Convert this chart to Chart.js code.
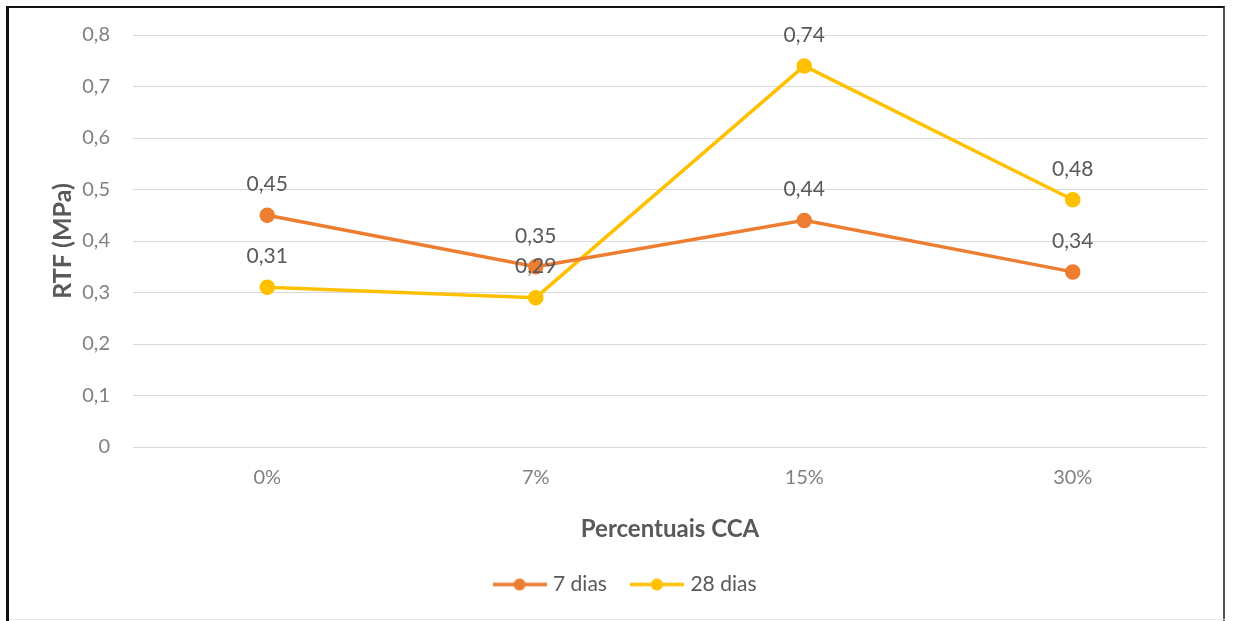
<!DOCTYPE html>
<html>
<head>
<meta charset="utf-8">
<script src="https://cdn.jsdelivr.net/npm/chart.js@4.4.1/dist/chart.umd.min.js"></script>
<style>
  html, body { margin: 0; padding: 0; background: #fff; }
  #wrap { position: relative; width: 1233px; height: 621px; overflow: hidden; }
  #chart { position: absolute; left: 0; top: 0; }
  #frame {
    position: absolute; left: 6px; top: 6px; width: 1219px; height: 620px;
    border-left: 3px solid #111; border-top: 2px solid #111; border-right: 2px solid #555;
    box-sizing: border-box; pointer-events: none;
  }
  #bottomline { position: absolute; left: 9px; top: 619px; width: 1216px; height: 1px; background: #e6e6e6; }
</style>
</head>
<body>
<div id="wrap">
  <canvas id="chart" width="1233" height="621"></canvas>
  <div id="frame"></div>
  <div id="bottomline"></div>
</div>
<script>
// Percentage of rice husk ash (CCA) on the x axis
const categories = ['0%', '7%', '15%', '30%'];
// Flexural tensile strength (MPa)
const dias7 = [0.45, 0.35, 0.44, 0.34];
const dias28 = [0.31, 0.29, 0.74, 0.48];
const seriesNames = ['7 dias', '28 dias'];
const yTicks = [0, 0.1, 0.2, 0.3, 0.4, 0.5, 0.6, 0.7, 0.8];

const ORANGE = '#ED7D31';
const GOLD = '#FFC000';
const FONT = 'Lato, "Open Sans", sans-serif';

const fmt = (v, d) => v === 0 ? '0' : v.toFixed(d).replace('.', ',');

// Legend marker: a short line with a dot in the middle
function legendMarker(color) {
  const c = document.createElement('canvas');
  c.width = 54; c.height = 14;
  const g = c.getContext('2d');
  g.strokeStyle = color; g.lineWidth = 3.5;
  g.beginPath(); g.moveTo(0, 7); g.lineTo(54, 7); g.stroke();
  g.fillStyle = color;
  g.beginPath(); g.arc(27, 7, 6, 0, Math.PI * 2); g.fill();
  return c;
}

// Value labels above each point
const valueLabels = {
  id: 'valueLabels',
  afterDatasetsDraw(chart) {
    const ctx = chart.ctx;
    ctx.save();
    ctx.font = '21px ' + FONT;
    ctx.fillStyle = '#595959';
    ctx.textAlign = 'center';
    ctx.textBaseline = 'middle';
    chart.data.datasets.forEach((ds, i) => {
      chart.getDatasetMeta(i).data.forEach((pt, j) => {
        ctx.fillText(fmt(ds.data[j], 2), pt.x, pt.y - 31);
      });
    });
    ctx.restore();
  }
};

const whiteBg = {
  id: 'whiteBg',
  beforeDraw(chart) {
    const ctx = chart.ctx;
    ctx.save();
    ctx.fillStyle = '#fff';
    ctx.fillRect(0, 0, chart.width, chart.height);
    ctx.restore();
  }
};

const markers = [legendMarker(ORANGE), legendMarker(GOLD)];

new Chart(document.getElementById('chart'), {
  type: 'line',
  data: {
    labels: categories,
    datasets: [
      { label: seriesNames[0], data: dias7, borderColor: ORANGE, backgroundColor: ORANGE,
        pointBackgroundColor: ORANGE, pointBorderColor: ORANGE, borderWidth: 3.5,
        pointRadius: 6, pointStyle: 'circle', tension: 0 },
      { label: seriesNames[1], data: dias28, borderColor: GOLD, backgroundColor: GOLD,
        pointBackgroundColor: GOLD, pointBorderColor: GOLD, borderWidth: 3.5,
        pointRadius: 6, pointStyle: 'circle', tension: 0 }
    ]
  },
  options: {
    responsive: false,
    animation: false,
    events: [],
    layout: { padding: { left: 46, right: 26, top: 35, bottom: 16 } },
    plugins: {
      tooltip: { enabled: false },
      legend: {
        position: 'bottom',
        labels: {
          usePointStyle: true,
          pointStyleWidth: 46,
          padding: 27,
          color: '#595959',
          font: { family: FONT, size: 21 },
          generateLabels(chart) {
            return chart.data.datasets.map((ds, i) => ({
              text: ds.label, pointStyle: markers[i], fillStyle: ds.borderColor,
              strokeStyle: ds.borderColor, lineWidth: 0, fontColor: '#595959',
              datasetIndex: i, hidden: false
            }));
          }
        }
      }
    },
    scales: {
      x: {
        type: 'category',
        offset: true,
        grid: { display: false, drawTicks: false },
        border: { display: false },
        ticks: { color: '#808080', padding: 19, font: { family: FONT, size: 20 } },
        title: { display: true, text: 'Percentuais CCA', color: '#595959',
                 padding: { top: 0, bottom: 3 }, font: { family: FONT, size: 24, weight: 'bold' } },
        afterFit(s) { s.height = 100; }
      },
      y: {
        min: 0, max: 0.8,
        afterBuildTicks(s) { s.ticks = yTicks.map(v => ({ value: v })); },
        grid: { color: '#d9d9d9', lineWidth: 1, drawTicks: false },
        border: { display: false },
        ticks: { color: '#808080', padding: 23, font: { family: FONT, size: 20 },
                 callback: v => fmt(v, 1) },
        title: { display: true, text: 'RTF (MPa)', color: '#595959',
                 padding: { top: 2, bottom: 0 }, font: { family: FONT, size: 25, weight: 'bold' } },
        afterFit(s) { s.width = 87; }
      }
    }
  },
  plugins: [whiteBg, valueLabels]
});
</script>
</body>
</html>
